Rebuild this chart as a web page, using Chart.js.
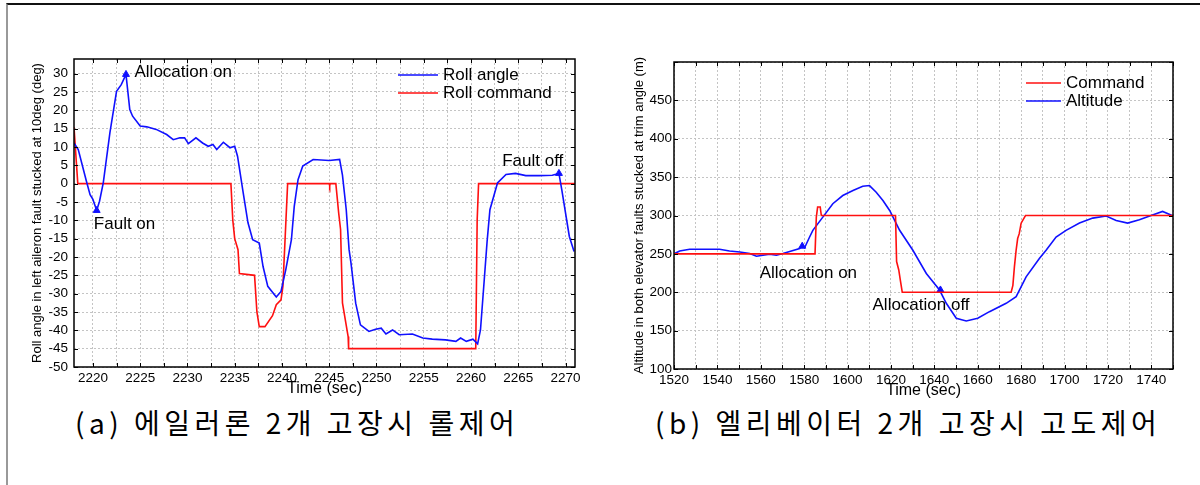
<!DOCTYPE html>
<html>
<head>
<meta charset="utf-8">
<script src="https://cdn.jsdelivr.net/npm/chart.js@4.4.0/dist/chart.umd.min.js"></script>
<style>
    body { margin: 0; background: #fff; }
    #wrap { position: relative; width: 1200px; height: 485px; overflow: hidden; background: #fff; }
    #frame { position: absolute; left: 6px; top: 3px; right: 0; bottom: 0; border-left: 2px solid #999; border-top: 2px solid #111; }
    .box { position: absolute; top: 0; width: 600px; height: 400px; }
    .caption {
        position: absolute; top: 402px; font-family: "Noto Sans CJK KR", sans-serif;
        font-size: 28px; line-height: 40px; letter-spacing: 4.5px; color: #000; white-space: nowrap;
    }
</style>
</head>
<body>
<div id="wrap">
    <div id="frame"></div>
    <div class="box" style="left:0"><canvas id="rollChart" width="600" height="400"></canvas></div>
    <div class="box" style="left:600px"><canvas id="altChart" width="600" height="400"></canvas></div>
    <div class="caption" style="left:75px">(a) 에일러론 2개 고장시 롤제어</div>
    <div class="caption" style="left:655px">(b) 엘리베이터 2개 고장시 고도제어</div>
</div>
<script>
// ===== data (a) roll =====
const rollTime = [2218.0, 2218.45, 2219.3, 2219.7, 2220.0, 2220.4, 2220.7, 2221.1, 2221.8, 2222.5, 2223.0, 2223.5, 2223.9, 2224.2,
    2225.0, 2225.7, 2226.7, 2227.8, 2228.5, 2229.2, 2229.7, 2230.1, 2230.9, 2231.6, 2232.2, 2232.7, 2233.1, 2233.8, 2234.5,
    2235.0, 2235.3, 2235.9, 2236.4, 2236.9, 2237.6, 2238.0, 2238.5, 2239.4, 2239.9, 2240.4, 2241.0, 2241.3, 2241.7, 2242.2,
    2243.3, 2245.0, 2246.1, 2246.4, 2246.8, 2247.1, 2247.3, 2247.8, 2248.3, 2249.2, 2249.9, 2250.5, 2251.0, 2251.7, 2252.4,
    2253.8, 2254.9, 2255.9, 2257.3, 2258.4, 2258.9, 2259.5, 2260.2, 2260.7, 2261.0, 2261.4, 2261.7, 2262.0, 2262.8, 2263.7,
    2264.7, 2265.8, 2267.2, 2268.6, 2269.3, 2269.6, 2270.4, 2270.9];
const rollAngle = [11.1, 9.3, 0.8, -3, -4.3, -7.3, -4.8, 0.3, 13.9, 25.2, 27, 29.8, 20.2, 18.4,
    15.7, 15.5, 14.8, 13.4, 12, 12.5, 12.5, 10.9, 12.5, 11.1, 10.2, 10.7, 9.3, 11.3, 9.8,
    10.2, 7.5, -2.5, -10.6, -15.3, -16.2, -22.6, -28, -30.9, -29.4, -23.5, -15.3, -6.2, 1.1, 4.8,
    6.6, 6.3, 6.6, 2.3, -7.1, -18, -21.6, -32.6, -38.5, -40.3, -39.7, -39.4, -41, -39.9, -41.2,
    -41, -42.1, -42.4, -42.6, -43, -42.1, -43, -42.4, -43.7, -39.9, -26.2, -15.8, -7.1, 0.2, 2.5,
    2.8, 2.2, 2.2, 2.3, 2.8, -1.6, -14.4, -18.5];
const cmdTime = [2218.0, 2218.4, 2234.6, 2234.8, 2235.0, 2235.35, 2235.5, 2237.1, 2237.35, 2237.6, 2238.2, 2239.0, 2239.4,
    2239.9, 2240.1, 2240.6, 2245.0, 2245.05, 2245.1, 2245.7, 2246.0, 2246.2, 2246.4, 2247.0, 2247.05, 2260.5, 2260.65, 2260.8, 2271];
const rollCommand = [15.4, 0, 0, -10, -15, -18, -24.5, -25, -35, -39, -39, -36, -33,
    -31.7, -28, 0, 0, -0.6, 0, 0, -8, -12.5, -32.5, -41.7, -45, -45, -10, 0, 0];
const rollMarkT = [2220.4, 2223.5, 2269.3];
const rollMarkV = [-7.3, 29.8, 2.8];
const rollNotes = ["Allocation on", "Fault on", "Fault off"];
const rollNoteT = [2224.4, 2220.1, 2263.3];
const rollNoteV = [30.3, -11.2, 6];

// ===== data (b) altitude =====
const altTime = [1520.3, 1522.6, 1527.2, 1535, 1541, 1545.6, 1550.3, 1554.9, 1558, 1561, 1564.1, 1567.2, 1570.2, 1574.1,
    1577.9, 1579.1, 1580.2, 1582.5, 1584, 1588.6, 1593.2, 1597.8, 1602.5, 1607, 1610.1, 1613.2, 1616.3, 1619.4, 1624,
    1630.1, 1636.3, 1642.4, 1645.5, 1650.1, 1654.7, 1660, 1665.4, 1673.1, 1677.7, 1682.3, 1688.4, 1691.5, 1696.1, 1700.7,
    1706.9, 1713, 1719.2, 1723.8, 1729.1, 1734.5, 1739.9, 1745.2, 1749.6];
const altitude = [250.4, 253.8, 256, 256, 256, 253.8, 252.5, 250.4, 247, 248.2, 249.5, 248.2, 250.4, 253.8,
    257, 261, 258, 272, 280.7, 297.9, 315.3, 326, 332.6, 338.1, 339, 330.4, 319.6, 306.6, 280.7,
    254.7, 224.5, 202.9, 185.6, 166.1, 162.6, 166.1, 174.7, 185.6, 194.2, 220.1, 244, 254.7, 272, 280.7,
    290.1, 296.6, 299.3, 293.6, 290.1, 294.6, 300.1, 305.3, 300.1];
const altCmdTime = [1520, 1585, 1585.6, 1586.2, 1587.4, 1587.9, 1622.1, 1622.6, 1623.6, 1624.3, 1625.2, 1675.4, 1676.2,
    1676.9, 1677.7, 1678.4, 1679.1, 1680, 1682, 1750];
const altCommand = [250, 250, 298, 311, 311, 300, 300, 240, 229, 216, 200, 200, 209,
    233, 255, 270, 276, 290, 300, 300];
const altMarkT = [1579.1, 1642.8];
const altMarkV = [260, 203];
const altNotes = ["Allocation on", "Allocation off"];
const altNoteT = [1559.5, 1611.5];
const altNoteV = [225.3, 183.4];

const FONT = '"Liberation Sans", Arial, sans-serif';
const BLUE = '#1010ff';
const RED = '#ff1010';

const pts = (xs, ys) => xs.map((x, i) => ({ x: x, y: ys[i] }));

// frame, inward ticks, notes, legend
const decor = {
    id: 'decor',
    afterDraw(chart) {
        const { ctx, chartArea: a, scales } = chart;
        const cfg = chart.options.plugins.decor;
        ctx.save();
        ctx.strokeStyle = '#000';
        ctx.lineWidth = 1;
        ctx.beginPath();
        scales.y.ticks.forEach(t => {
            const y = Math.round(scales.y.getPixelForValue(t.value)) + 0.5;
            ctx.moveTo(a.left, y); ctx.lineTo(a.left + 4, y);
            ctx.moveTo(a.right, y); ctx.lineTo(a.right - 4, y);
        });
        scales.x.ticks.forEach(t => {
            const x = Math.round(scales.x.getPixelForValue(t.value)) + 0.5;
            ctx.moveTo(x, a.bottom); ctx.lineTo(x, a.bottom - 4);
            ctx.moveTo(x, a.top); ctx.lineTo(x, a.top + 4);
        });
        ctx.stroke();
        ctx.lineWidth = 1.5;
        ctx.strokeRect(a.left, a.top, a.right - a.left, a.bottom - a.top);

        ctx.fillStyle = '#000';
        ctx.font = '17px ' + FONT;
        ctx.textBaseline = 'middle';
        ctx.textAlign = 'left';
        cfg.notes.forEach((txt, i) => {
            ctx.fillText(txt, scales.x.getPixelForValue(cfg.noteT[i]), scales.y.getPixelForValue(cfg.noteV[i]));
        });

        cfg.legend.forEach((item, i) => {
            const y = a.top + cfg.legendY + i * 18;
            const x0 = a.left + cfg.legendX;
            ctx.strokeStyle = item.color;
            ctx.lineWidth = 1.5;
            ctx.beginPath();
            ctx.moveTo(x0, y); ctx.lineTo(x0 + cfg.legendLen, y);
            ctx.stroke();
            ctx.fillStyle = '#000';
            ctx.fillText(item.text, x0 + cfg.legendLen + 5, y);
        });
        ctx.restore();
    }
};

function makeChart(id, o) {
    return new Chart(document.getElementById(id), {
        type: 'line',
        data: {
            datasets: [
                ...o.series.map(s => ({
                    data: s.data, borderColor: s.color, borderWidth: 1.6,
                    pointRadius: 0, tension: 0, fill: false
                })),
                {
                    data: o.marks, showLine: false, pointStyle: 'triangle',
                    pointRadius: 4, backgroundColor: BLUE, borderColor: BLUE
                }
            ]
        },
        options: {
            responsive: false,
            animation: false,
            layout: { padding: o.padding },
            plugins: {
                legend: { display: false },
                tooltip: { enabled: false },
                decor: o.decor
            },
            scales: {
                x: {
                    type: 'linear', min: o.xMin, max: o.xMax,
                    afterFit: s => { s.height = 31; },
                    grid: { color: '#c4c4c4', drawTicks: false },
                    border: { display: false, dash: [2, 2] },
                    ticks: {
                        stepSize: o.xStep, includeBounds: false, autoSkip: false, maxRotation: 0, padding: 3,
                        color: '#000', font: { family: FONT, size: 13.5 },
                        callback: v => (v % o.xLabelEvery === 0 ? v : '')
                    },
                    title: { display: true, text: 'Time (sec)', color: '#000', padding: 0, font: { family: FONT, size: 16 } }
                },
                y: {
                    min: o.yMin, max: o.yMax,
                    afterFit: s => { s.width = o.yWidth; },
                    grid: { color: '#c4c4c4', drawTicks: false },
                    border: { display: false, dash: [2, 2] },
                    ticks: {
                        stepSize: o.yStep, includeBounds: false, padding: o.yPad,
                        color: '#000', font: { family: FONT, size: 13.5 },
                        callback: v => (v === o.yHide ? '' : v)
                    },
                    title: { display: true, text: o.yTitle, color: '#000', padding: 0, font: { family: FONT, size: 13 } }
                }
            }
        },
        plugins: [decor]
    });
}

makeChart('rollChart', {
    series: [
        { data: pts(rollTime, rollAngle), color: BLUE },
        { data: pts(cmdTime, rollCommand), color: RED }
    ],
    marks: pts(rollMarkT, rollMarkV),
    padding: { left: 30, top: 59, right: 25, bottom: 2 },
    xMin: 2218, xMax: 2271, xStep: 2.5, xLabelEvery: 5,
    yMin: -50, yMax: 34, yStep: 5, yWidth: 44, yPad: 6, yHide: null,
    yTitle: 'Roll angle in left aileron fault stucked at 10deg (deg)',
    decor: {
        notes: rollNotes, noteT: rollNoteT, noteV: rollNoteV,
        legend: [{ text: 'Roll angle', color: BLUE }, { text: 'Roll command', color: RED }],
        legendX: 324, legendY: 16, legendLen: 40
    }
});

makeChart('altChart', {
    series: [
        { data: pts(altCmdTime, altCommand), color: RED },
        { data: pts(altTime, altitude), color: BLUE }
    ],
    marks: pts(altMarkT, altMarkV),
    padding: { left: 32, top: 62, right: 27, bottom: 0 },
    xMin: 1520, xMax: 1750, xStep: 10, xLabelEvery: 20,
    yMin: 100, yMax: 500, yStep: 50, yWidth: 42, yPad: 2, yHide: 500,
    yTitle: 'Altitude in both elevator faults stucked at trim angle (m)',
    decor: {
        notes: altNotes, noteT: altNoteT, noteV: altNoteV,
        legend: [{ text: 'Command', color: RED }, { text: 'Altitude', color: BLUE }],
        legendX: 352, legendY: 21, legendLen: 35
    }
});
</script>
</body>
</html>
